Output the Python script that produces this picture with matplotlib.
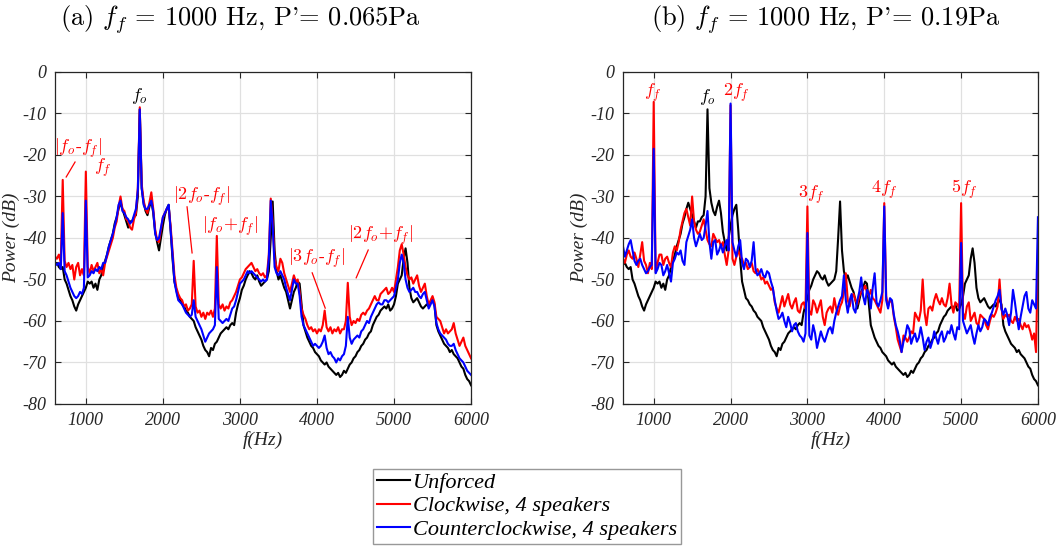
import numpy as np
import matplotlib
matplotlib.use("Agg")
import matplotlib.pyplot as plt

plt.rcParams['mathtext.fontset'] = 'cm'
plt.rcParams['axes.unicode_minus'] = False

# frequency grid (Hz), 25 Hz spacing
freq = np.arange(600, 6001, 25)

# unforced spectrum (dB), same in both panels
unforced = [
    -46.4, -46.0, -47.0, -47.5, -47.0, -50.0, -51.0, -52.5, -54.0, -55.0, -56.5, -57.5, -56.0, -55.0, -54.0, -53.0, -52.0, -50.5, -51.0, -50.5,
    -52.0, -51.0, -52.5, -50.0, -49.0, -47.0, -45.5, -44.0, -42.0, -40.5, -39.0, -36.5, -35.0, -33.0, -31.5, -33.0, -34.5, -36.0, -37.5, -36.0,
    -36.0, -35.0, -34.5, -30.0, -9.0, -28.0, -31.5, -33.5, -34.5, -32.5, -31.0, -34.0, -38.5, -41.0, -43.0, -40.0, -37.0, -34.5, -33.0, -32.0,
    -38.0, -45.0, -50.5, -52.5, -54.5, -55.0, -56.0, -56.5, -57.5, -58.0, -59.0, -59.5, -60.0, -61.5, -62.5, -63.5, -64.5, -66.0, -67.0, -67.5,
    -68.5, -66.5, -67.0, -65.5, -65.0, -64.0, -63.0, -62.5, -62.0, -61.5, -62.0, -61.0, -60.5, -61.0, -58.0, -56.0, -54.5, -52.5, -51.5, -50.0,
    -49.0, -48.0, -48.5, -49.5, -50.0, -49.0, -50.5, -51.5, -51.0, -50.5, -50.0, -48.0, -40.0, -31.2, -43.0, -48.0, -50.0, -49.0, -50.5, -52.0,
    -53.0, -55.0, -57.0, -55.0, -53.0, -52.0, -50.5, -51.0, -56.0, -61.0, -62.5, -64.0, -65.0, -66.0, -66.5, -67.5, -68.0, -68.5, -69.5, -70.0,
    -70.5, -70.0, -71.0, -71.5, -72.0, -72.5, -73.0, -72.5, -73.5, -73.0, -72.0, -72.5, -71.5, -70.5, -70.0, -69.0, -68.5, -67.5, -67.0, -66.0,
    -65.5, -64.5, -64.0, -63.0, -62.5, -61.0, -60.0, -59.0, -58.5, -57.5, -57.0, -56.5, -57.0, -56.0, -57.5, -57.0, -56.0, -54.0, -51.0, -50.0,
    -49.0, -45.0, -42.5, -46.0, -52.0, -54.5, -55.5, -55.0, -54.5, -55.5, -56.5, -57.0, -56.5, -56.0, -56.5, -55.5, -55.0, -56.0, -61.0, -62.5,
    -63.5, -64.5, -65.5, -66.0, -66.5, -67.5, -67.0, -68.0, -68.5, -69.0, -70.0, -71.0, -71.5, -73.0, -74.0, -74.5, -75.5,
]

# (a) P' = 0.065 Pa
cw_a = [
    -44.5, -45.0, -44.0, -46.0, -26.0, -45.5, -47.0, -46.0, -47.5, -46.5, -50.0, -47.0, -46.0, -49.0, -47.5, -49.0, -24.0, -47.0, -48.5, -46.5,
    -48.0, -47.0, -46.0, -48.5, -47.5, -49.0, -46.0, -44.5, -43.0, -41.5, -40.0, -37.5, -36.0, -32.5, -30.0, -33.0, -33.5, -35.5, -36.0, -37.5,
    -38.0, -35.5, -34.0, -28.0, -8.5, -27.0, -31.0, -33.0, -34.0, -31.5, -29.0, -33.0, -38.0, -40.5, -41.0, -38.0, -35.0, -34.0, -33.0, -32.5,
    -37.0, -43.0, -49.0, -52.0, -53.5, -54.5, -55.0, -56.5, -56.0, -57.5, -57.0, -56.0, -45.5, -56.5, -58.0, -57.5, -59.0, -58.0, -59.5, -58.0,
    -58.5, -57.5, -59.0, -57.0, -39.5, -56.0, -57.0, -56.0, -57.5, -56.5, -57.0, -55.5, -55.0, -54.0, -53.0, -51.5, -50.0, -49.5, -48.5, -47.5,
    -47.0, -46.5, -46.0, -47.0, -48.0, -47.5, -48.5, -49.0, -48.5, -49.5, -49.0, -44.0, -30.5, -36.0, -45.0, -47.0, -48.0, -45.0, -46.0, -48.5,
    -50.0, -51.5, -53.0, -51.0, -49.0, -50.5, -50.0, -53.0, -57.0, -58.5, -59.5, -61.0, -62.0, -61.5, -62.5, -62.0, -63.0, -62.0, -62.5, -61.0,
    -57.5, -61.5, -62.5, -61.5, -63.0, -62.0, -62.5, -61.5, -63.0, -62.0, -62.0, -60.0, -50.8, -59.0, -61.0, -60.0, -60.5, -59.5, -60.0, -58.5,
    -58.0, -58.5, -57.5, -57.0, -56.0, -55.0, -54.0, -55.0, -55.0, -53.5, -53.0, -52.5, -52.0, -53.5, -53.0, -52.0, -53.0, -50.0, -47.0, -43.0,
    -41.5, -44.0, -47.0, -49.0, -50.0, -49.5, -51.0, -50.0, -49.0, -51.5, -53.0, -52.0, -51.0, -54.0, -56.0, -55.0, -54.0, -55.5, -59.0, -59.5,
    -60.0, -61.5, -63.0, -62.0, -63.0, -62.5, -62.0, -60.5, -63.0, -64.5, -66.0, -65.0, -64.0, -66.0, -67.0, -68.0, -69.0,
]
ccw_a = [
    -46.0, -46.5, -46.0, -47.5, -34.0, -48.0, -49.0, -50.5, -52.0, -53.0, -54.0, -54.5, -54.0, -53.0, -53.5, -52.0, -31.0, -49.5, -49.0, -48.0,
    -48.5, -47.5, -48.0, -47.0, -47.5, -46.0, -46.0, -44.0, -42.0, -40.5, -39.0, -37.0, -35.0, -32.0, -31.0, -33.5, -34.0, -35.0, -35.5, -36.5,
    -36.0, -34.5, -33.0, -28.5, -9.0, -28.0, -32.0, -33.0, -33.0, -32.0, -31.0, -33.5, -39.0, -40.5, -40.0, -37.5, -35.0, -34.0, -33.0, -32.0,
    -38.0, -44.0, -50.5, -53.0, -55.0, -55.5, -56.0, -57.0, -58.0, -58.5, -59.0, -58.5, -55.0, -59.0, -60.0, -61.0, -62.0, -63.5, -65.0, -64.0,
    -63.0, -62.5, -62.0, -61.0, -47.0, -59.5, -60.0, -60.5, -60.0, -59.5, -60.0, -58.5, -57.0, -56.5, -55.0, -53.0, -51.0, -50.5, -50.0, -49.0,
    -48.0, -48.5, -48.0, -48.5, -49.0, -49.5, -50.0, -50.5, -50.0, -50.5, -50.0, -45.0, -31.0, -37.0, -47.0, -48.5, -49.0, -48.0, -49.0, -50.0,
    -52.0, -53.5, -55.0, -52.5, -50.0, -51.0, -51.0, -54.0, -59.0, -61.0, -62.0, -63.0, -64.0, -65.0, -66.0, -65.5, -66.0, -66.5, -66.0, -65.0,
    -63.5, -66.5, -68.0, -67.5, -68.5, -69.0, -70.0, -69.0, -69.5, -68.5, -68.0, -66.0, -59.0, -64.0, -65.5, -64.5, -64.0, -63.5, -64.0, -62.5,
    -62.0, -61.0, -60.0, -60.5, -59.0, -58.0, -57.0, -56.0, -55.5, -56.0, -56.0, -55.0, -55.0, -55.5, -55.0, -54.5, -54.0, -52.0, -50.0, -46.0,
    -44.0, -46.0, -50.0, -52.0, -53.0, -52.5, -52.0, -53.0, -53.0, -54.0, -54.5, -53.5, -53.0, -55.0, -57.0, -56.0, -55.0, -56.5, -60.5, -62.0,
    -63.0, -63.5, -64.0, -64.5, -65.5, -66.0, -66.0, -65.5, -67.0, -68.0, -69.0, -69.5, -70.0, -71.0, -72.0, -72.5, -73.0,
]

# (b) P' = 0.19 Pa
cw_b = [
    -45.0, -46.0, -44.0, -43.0, -44.5, -45.0, -43.5, -45.0, -47.0, -44.0, -41.0, -45.5, -46.5, -48.5, -46.0, -47.5, -7.2, -48.0, -46.0, -44.0,
    -44.0, -46.5, -45.0, -44.5, -46.0, -47.0, -43.5, -42.0, -43.0, -41.0, -38.0, -36.0, -34.0, -33.0, -35.0, -37.0, -30.0, -36.0, -38.0, -39.0,
    -38.5, -37.0, -35.5, -38.0, -40.5, -41.5, -42.0, -39.0, -40.0, -41.0, -40.5, -42.0, -41.0, -44.0, -46.5, -43.0, -8.0, -45.0, -46.5, -44.5,
    -43.0, -44.5, -45.0, -46.5, -46.0, -47.5, -47.0, -46.0, -48.0, -48.5, -47.5, -48.5, -50.0, -49.5, -51.0, -50.5, -51.5, -52.5, -52.0, -55.5,
    -57.0, -58.0, -56.0, -54.0, -56.5, -55.0, -53.5, -56.0, -57.0, -55.5, -54.5, -57.5, -58.0, -56.0, -55.5, -57.0, -32.4, -57.5, -58.5, -55.0,
    -56.0, -58.0, -56.5, -55.0, -59.0, -61.0, -58.0, -57.0, -56.5, -58.0, -54.5, -57.0, -58.5, -56.5, -55.5, -53.0, -48.5, -55.0, -56.5, -54.0,
    -53.5, -55.0, -56.0, -54.0, -53.0, -52.5, -51.5, -53.0, -54.0, -52.5, -54.5, -55.0, -56.0, -57.0, -58.0, -55.0, -31.6, -54.0, -56.5, -55.0,
    -55.5, -59.0, -61.5, -64.5, -66.0, -67.5, -63.5, -64.0, -65.0, -64.0, -62.5, -63.0, -58.0, -59.0, -60.0, -57.5, -50.0, -58.0, -61.0, -57.0,
    -56.5, -57.5, -55.0, -53.5, -55.0, -56.0, -54.5, -56.0, -56.5, -54.5, -51.0, -56.0, -58.0, -55.5, -56.0, -57.0, -31.6, -58.0, -59.5, -56.5,
    -55.5, -60.0, -59.0, -58.0, -60.5, -61.0, -58.5, -59.0, -59.5, -61.0, -62.0, -60.0, -58.5, -59.0, -58.0, -56.5, -50.0, -57.0, -59.5, -58.5,
    -59.0, -58.5, -60.0, -60.5, -59.0, -60.0, -59.5, -61.0, -62.0, -60.5, -61.5, -61.0, -62.5, -64.5, -63.0, -67.5, -43.0,
]
ccw_b = [
    -42.0, -44.5, -43.0, -41.5, -40.5, -43.0, -45.5, -46.5, -45.5, -45.0, -46.5, -47.5, -48.5, -48.0, -47.0, -46.5, -18.5, -48.5, -47.5, -46.0,
    -46.5, -49.0, -48.0, -46.5, -48.5, -50.5, -46.0, -45.0, -43.5, -44.0, -43.0, -45.5, -46.5, -41.0, -39.5, -38.0, -35.5, -40.0, -42.0, -40.5,
    -39.0, -40.5, -40.0, -37.0, -33.5, -41.0, -45.0, -41.0, -40.5, -44.0, -43.0, -41.5, -43.5, -42.0, -40.5, -43.0, -7.6, -41.0, -43.0, -44.5,
    -42.0, -40.5, -46.0, -47.5, -45.0, -45.5, -47.0, -45.5, -41.0, -47.5, -49.0, -48.5, -47.5, -49.0, -49.5, -48.0, -48.5, -50.5, -52.0, -55.0,
    -57.5, -59.5, -59.0, -58.0, -60.0, -61.5, -59.0, -60.5, -62.5, -61.0, -60.5, -62.5, -63.5, -64.0, -65.0, -63.0, -38.8, -63.5, -64.5, -61.0,
    -63.0, -66.5, -64.5, -62.5, -64.0, -65.0, -63.5, -62.0, -61.5, -63.0, -60.0, -58.0, -56.5, -55.0, -54.0, -49.0, -55.0, -58.0, -55.0, -53.5,
    -57.0, -58.0, -55.0, -53.0, -49.5, -54.0, -56.0, -52.5, -53.5, -57.0, -52.0, -48.5, -55.5, -56.5, -55.0, -53.0, -32.4, -55.0, -57.0, -54.5,
    -55.0, -58.5, -61.0, -62.5, -64.5, -67.5, -65.0, -63.5, -61.0, -62.0, -65.5, -64.0, -63.0, -65.0, -64.0, -61.5, -64.0, -67.0, -65.0, -64.0,
    -66.5, -65.0, -62.5, -64.0, -65.5, -63.5, -62.5, -65.0, -64.0, -62.5, -63.0, -61.0, -63.0, -64.5, -61.5, -62.0, -41.2, -60.0, -61.5, -63.0,
    -62.0, -61.0, -63.5, -65.5, -63.0, -61.0, -62.5, -61.5, -59.5, -60.0, -61.0, -59.0, -58.0, -56.5, -55.0, -54.0, -52.5, -57.0, -58.5, -57.0,
    -58.5, -61.0, -58.0, -52.5, -55.5, -59.0, -62.0, -59.0, -56.5, -54.0, -53.0, -57.0, -58.0, -55.0, -56.0, -57.0, -35.0,
]

labels = ['Unforced', 'Clockwise, 4 speakers', 'Counterclockwise, 4 speakers']
colors = ['black', 'red', 'blue']

titles = [r"(a) $f_f$ = 1000 Hz, P'= 0.065Pa", r"(b) $f_f$ = 1000 Hz, P'= 0.19Pa"]

# annotations: (text, x, y, colour)
notes_a = [
    (r'$f_o$', 1700, -5.8, 'black'),
    (r'$|f_o$-$f_f|$', 900, -18.3, 'red'),
    (r'$f_f$', 1225, -23.1, 'red'),
    (r'$|2f_o$-$f_f|$', 2496, -30.0, 'red'),
    (r'$|f_o$+$f_f|$', 2873, -37.3, 'red'),
    (r'$|3f_o$-$f_f|$', 3990, -44.8, 'red'),
    (r'$|2f_o$+$f_f|$', 4820, -39.3, 'red'),
]
# leader lines: (x0, y0, x1, y1)
leaders_a = [
    (860, -21.7, 745, -25.3),
    (2314, -32.5, 2379, -43.6),
    (3938, -48.4, 4107, -56.9),
    (4665, -42.9, 4509, -49.6),
]
notes_b = [
    (r'$f_f$', 990, -5.1, 'red'),
    (r'$f_o$', 1705, -6.0, 'black'),
    (r'$2f_f$', 2082, -5.1, 'red'),
    (r'$3f_f$', 3058, -29.6, 'red'),
    (r'$4f_f$', 4007, -28.4, 'red'),
    (r'$5f_f$', 5047, -28.4, 'red'),
]

fig = plt.figure(figsize=(10.6, 5.5), dpi=100)
ax_a = fig.add_axes([0.0519, 0.2655, 0.3925, 0.6036])
ax_b = fig.add_axes([0.5877, 0.2655, 0.3915, 0.6036])

serif_it = dict(family='Liberation Serif', style='italic')

# title centres in figure fraction (they sit a bit left of the axes centre)
title_x = [0.2265, 0.779]

panels = [
    (ax_a, [unforced, cw_a, ccw_a], notes_a, leaders_a, titles[0], title_x[0]),
    (ax_b, [unforced, cw_b, ccw_b], notes_b, [], titles[1], title_x[1]),
]

for ax, series, notes, leaders, title, tx in panels:
    for ys, c, lab in zip(series, colors, labels):
        ax.plot(freq, ys, color=c, lw=1.5, label=lab)
    ax.set_xlim(600, 6000)
    ax.set_ylim(-80, 0)
    ax.set_xticks([1000, 2000, 3000, 4000, 5000, 6000])
    ax.set_yticks(np.arange(-80, 1, 10))
    ax.grid(True, color='#e0e0e0', lw=0.9)
    ax.set_axisbelow(True)
    ax.tick_params(direction='in', length=4, top=True, right=True,
                   color='#262626', labelsize=13, labelcolor='#262626', pad=6)
    for lab in ax.get_xticklabels() + ax.get_yticklabels():
        lab.set_fontfamily('Liberation Serif')
        lab.set_fontstyle('italic')
    for sp in ax.spines.values():
        sp.set_color('#262626')
        sp.set_linewidth(0.9)
    ax.set_xlabel('f(Hz)', fontsize=14, labelpad=1, color='#262626', **serif_it)
    ax.set_ylabel('Power (dB)', fontsize=14, labelpad=2, color='#262626', **serif_it)
    for txt, x, y, c in notes:
        ax.text(x, y, txt, color=c, fontsize=13, ha='center', va='center', family='cmr10')
    for x0, y0, x1, y1 in leaders:
        ax.plot([x0, x1], [y0, y1], color='red', lw=0.9)
    fig.text(tx, 0.965, title, ha='center', va='center', fontsize=19, family='cmr10')

handles, labs = ax_a.get_legend_handles_labels()
leg = fig.legend(handles, labs, loc='center', bbox_to_anchor=(0.497, 0.08),
                 prop=dict(family='Liberation Serif', style='italic', size=16),
                 frameon=True, fancybox=False, edgecolor='#7f7f7f',
                 handlelength=1.5, handletextpad=0.12, borderpad=0.18,
                 labelspacing=0.12, borderaxespad=0)
leg.get_frame().set_linewidth(1.0)

fig.savefig('out.png', dpi=100)
